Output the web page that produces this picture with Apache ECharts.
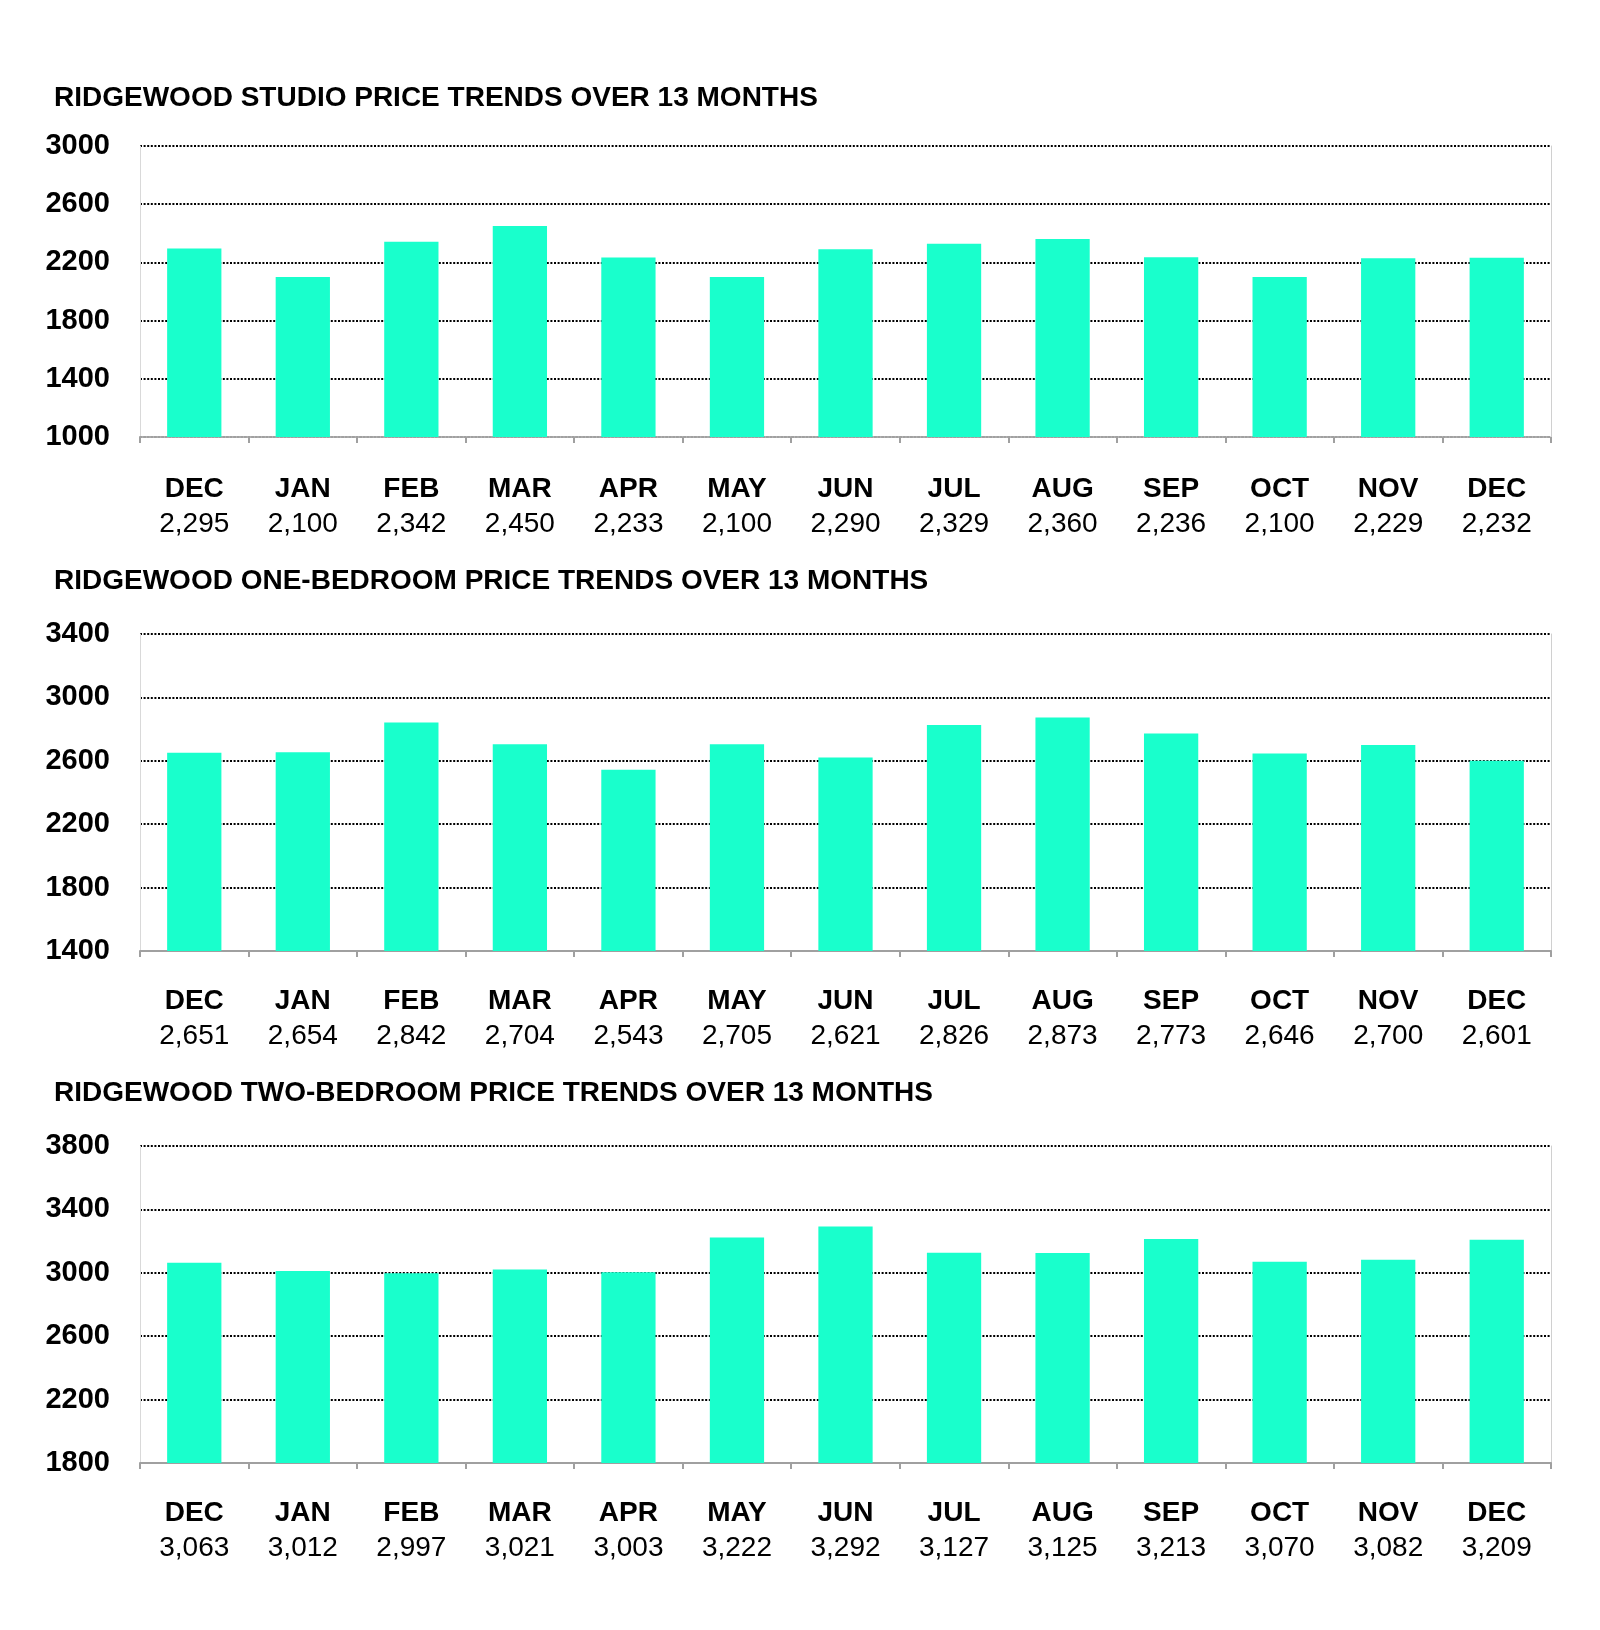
<!DOCTYPE html>
<html>
<head>
<meta charset="utf-8">
<script src="https://cdn.jsdelivr.net/npm/echarts@6/dist/echarts.min.js"></script>
<style>
  html, body { margin: 0; padding: 0; background: #fff; }
  #main { width: 1600px; height: 1630px; }
</style>
</head>
<body>
<div id="main"></div>
<script>
const months = ['DEC', 'JAN', 'FEB', 'MAR', 'APR', 'MAY', 'JUN', 'JUL', 'AUG', 'SEP', 'OCT', 'NOV', 'DEC']
const studio = [2295, 2100, 2342, 2450, 2233, 2100, 2290, 2329, 2360, 2236, 2100, 2229, 2232]
const oneBed = [2651, 2654, 2842, 2704, 2543, 2705, 2621, 2826, 2873, 2773, 2646, 2700, 2601]
const twoBed = [3063, 3012, 2997, 3021, 3003, 3222, 3292, 3127, 3125, 3213, 3070, 3082, 3209]
const titles = [
  'RIDGEWOOD STUDIO PRICE TRENDS OVER 13 MONTHS',
  'RIDGEWOOD ONE-BEDROOM PRICE TRENDS OVER 13 MONTHS',
  'RIDGEWOOD TWO-BEDROOM PRICE TRENDS OVER 13 MONTHS',
]
const yRanges = [[1000, 3000], [1400, 3400], [1800, 3800]]

const FONT = "'Liberation Sans', Arial, sans-serif"
const BAR = '#19ffcc'
const seriesData = [studio, oneBed, twoBed]
// panel layout: title y, grid top, grid height, label margin
const panels = [
  { titleTop: 84, top: 146, height: 291, margin: 35, axisType: [2, 1.6] },
  { titleTop: 567, top: 634, height: 317, margin: 33, axisType: 'solid' },
  { titleTop: 1079, top: 1146, height: 317, margin: 33, axisType: 'solid' },
]

const fmt = v => v.toLocaleString('en-US')

const option = {
  animation: false,
  backgroundColor: '#fff',
  title: panels.map((p, i) => ({
    text: titles[i],
    left: 54,
    top: p.titleTop,
    padding: 0,
    textStyle: { fontFamily: FONT, fontWeight: 'bold', fontSize: 28, color: '#000', lineHeight: 28 },
  })),
  grid: panels.map(p => ({ left: 140, right: 49, top: p.top, height: p.height })),
  xAxis: panels.map((p, i) => ({
    type: 'category',
    gridIndex: i,
    data: months,
    axisLine: { lineStyle: { color: '#a0a0a0', width: 2, type: p.axisType } },
    axisTick: { show: true, length: 6, lineStyle: { color: '#a0a0a0', width: 2 } },
    axisLabel: {
      margin: p.margin,
      formatter: (val, idx) => `{m|${val}}\n{v|${fmt(seriesData[i][idx])}}`,
      rich: {
        m: { fontFamily: FONT, fontWeight: 'bold', fontSize: 28, color: '#000', lineHeight: 35 },
        v: { fontFamily: FONT, fontSize: 28, color: '#000', lineHeight: 35 },
      },
    },
  })),
  yAxis: [],
  series: seriesData.map((d, i) => ({
    type: 'bar',
    xAxisIndex: i,
    yAxisIndex: i * 2,
    data: d,
    barWidth: '50%',
    itemStyle: { color: BAR },
  })),
}

yRanges.forEach((r, i) => {
  option.yAxis.push({
    type: 'value',
    gridIndex: i,
    min: r[0],
    max: r[1],
    interval: 400,
    axisLine: { show: true, lineStyle: { color: '#d9d9d9', width: 1 } },
    axisTick: { show: false },
    axisLabel: {
      margin: 30,
      formatter: v => String(v),
      fontFamily: FONT, fontWeight: 'bold', fontSize: 29, color: '#000',
    },
    splitLine: { showMinLine: false, lineStyle: { color: '#000', type: [2, 1.6], width: 2 } },
  })
  // right border line only
  option.yAxis.push({
    type: 'value',
    gridIndex: i,
    position: 'right',
    min: r[0],
    max: r[1],
    axisLine: { show: true, lineStyle: { color: '#d0d0d0', width: 1 } },
    axisTick: { show: false },
    axisLabel: { show: false },
    splitLine: { show: false },
  })
})

const chart = echarts.init(document.getElementById('main'))
chart.setOption(option)
</script>
</body>
</html>
